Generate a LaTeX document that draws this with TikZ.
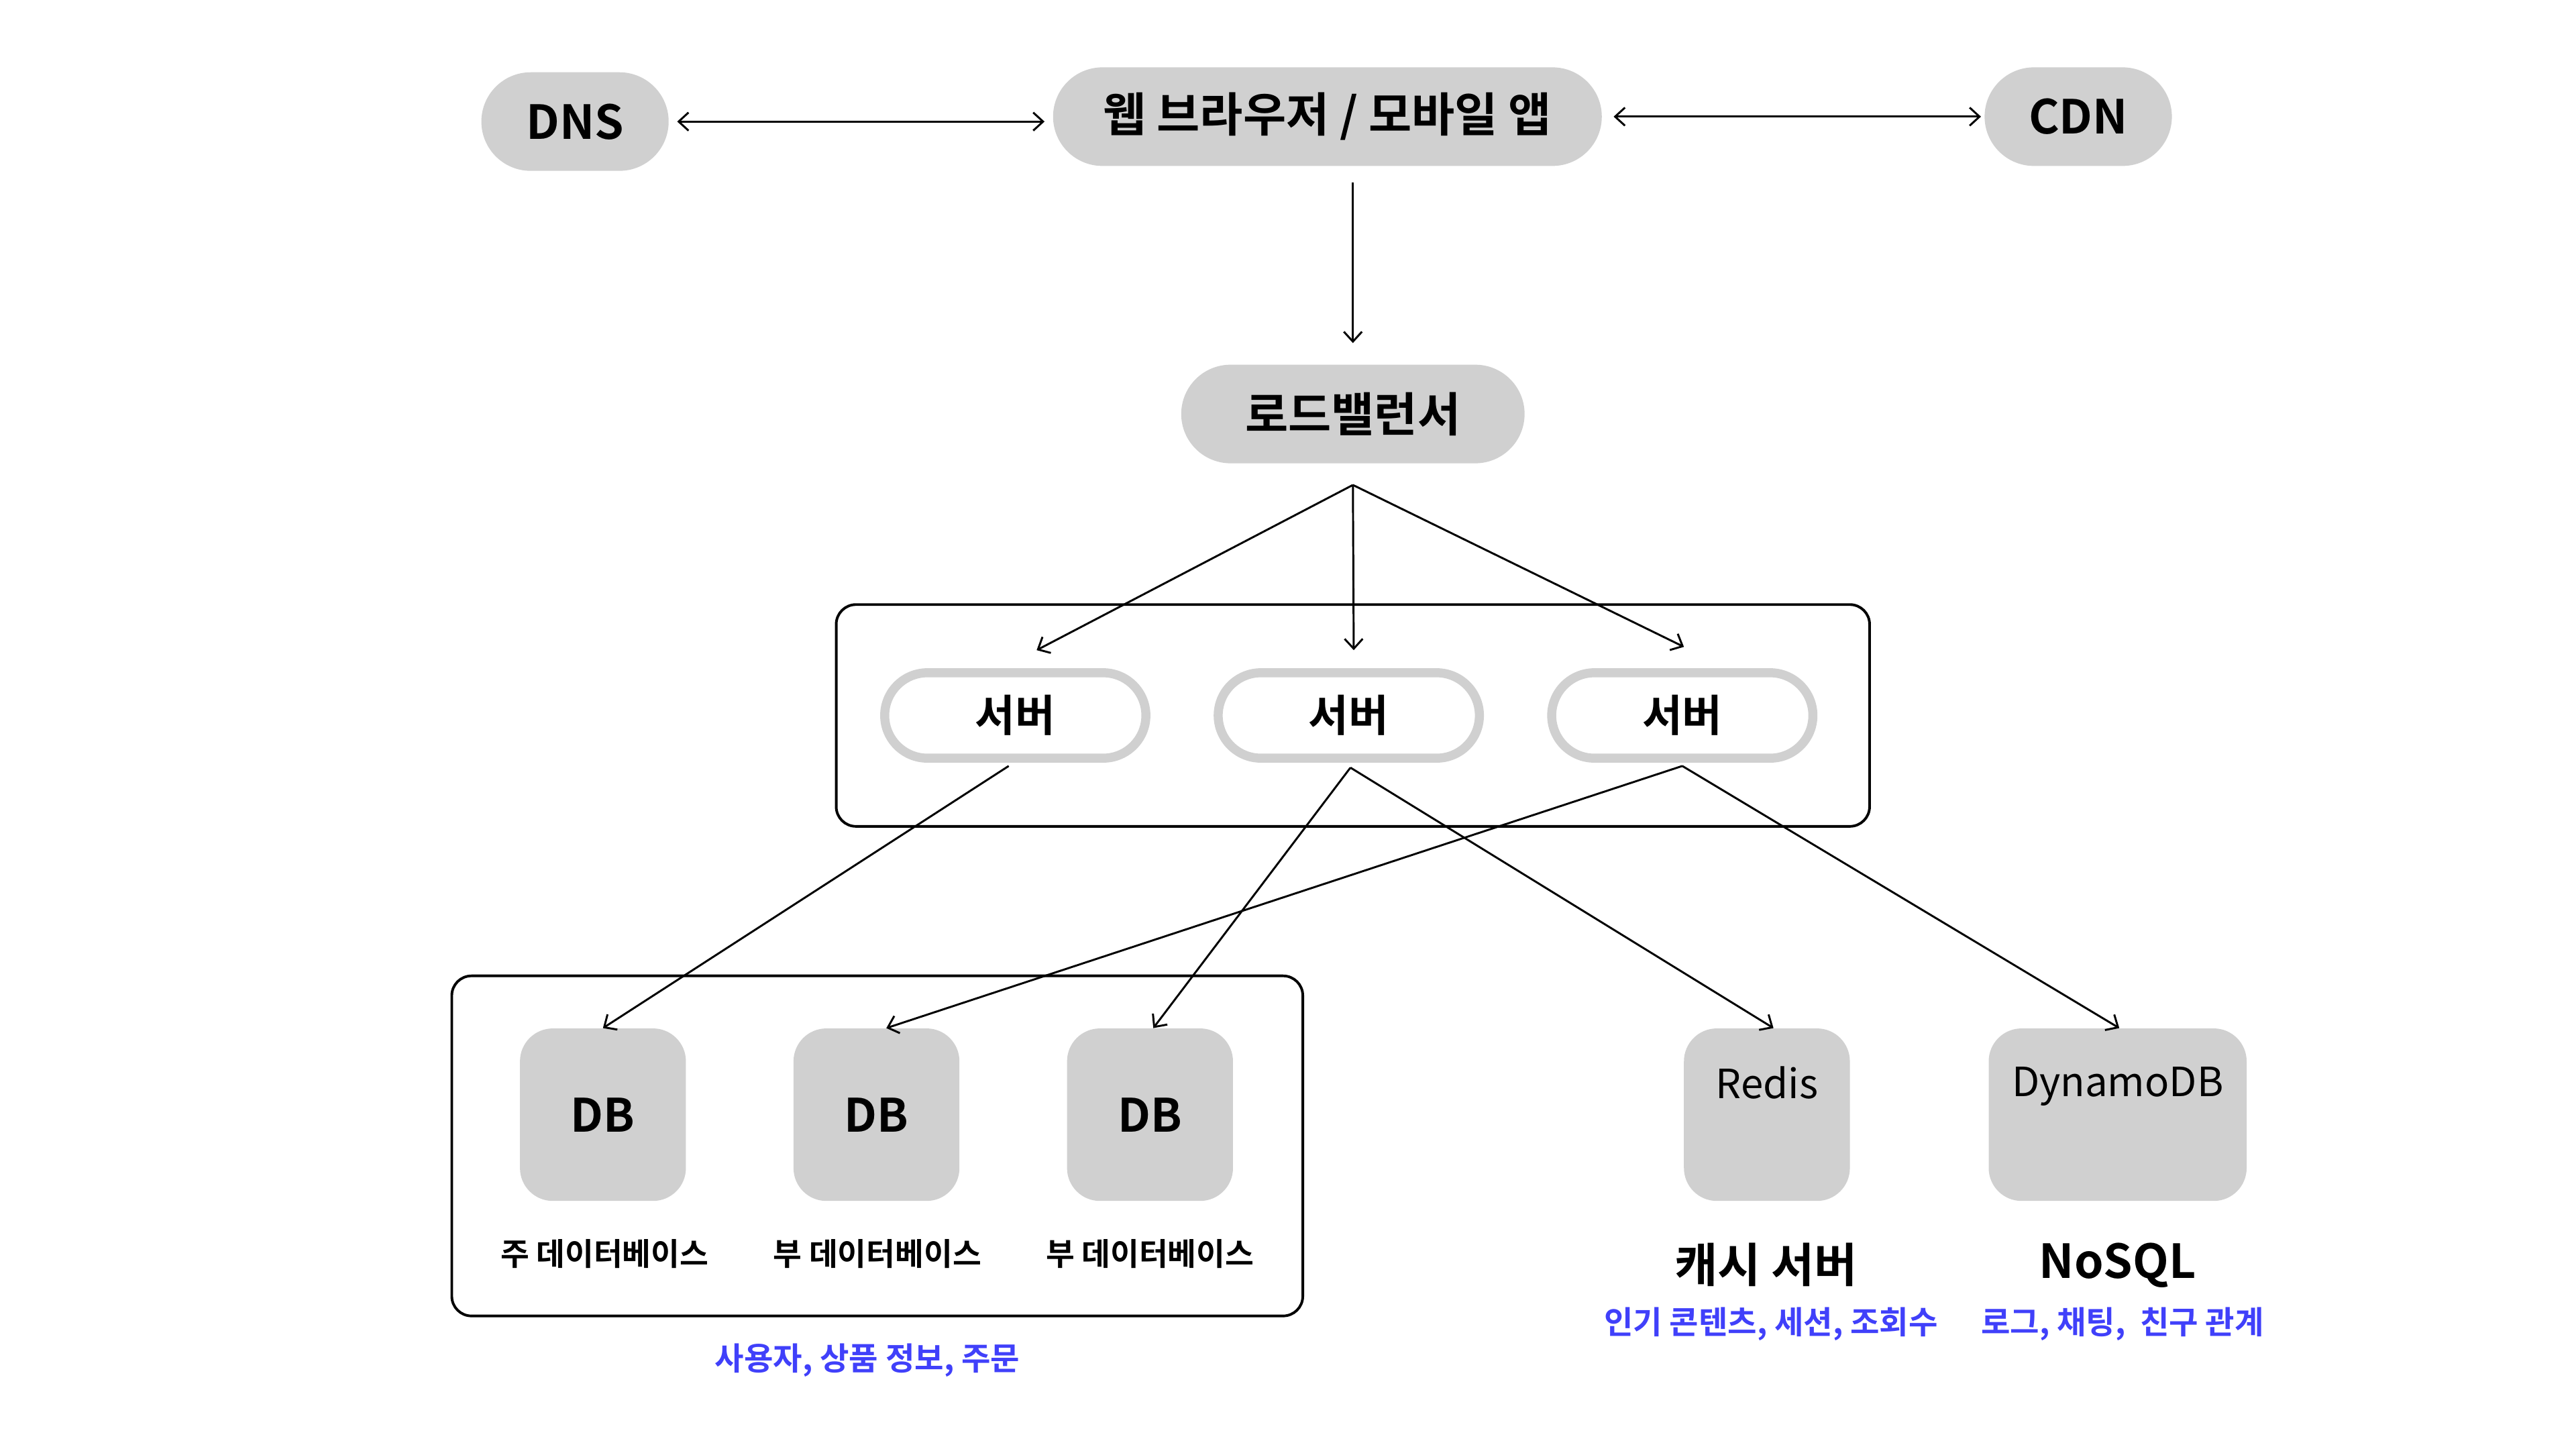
\documentclass[tikz,border=0pt]{standalone}
\usepackage{fontspec}
\setmainfont{Noto Sans CJK KR}[BoldFont={Noto Sans CJK KR Bold}]
\usetikzlibrary{arrows.meta,positioning}
\definecolor{boxgray}{RGB}{208,208,208}
\definecolor{noteblue}{RGB}{64,64,250}

\begin{document}
\begin{tikzpicture}[x=1pt,y=-1pt,
  >={Straight Barb[length=6pt,width=11pt]}, arr/.style={->,line width=1.2pt},
  pill/.style={fill=boxgray, rounded corners=30pt, minimum height=60pt, inner sep=0pt, font=\fontsize{28.5}{30}\selectfont\bfseries},
  srv/.style={draw=boxgray, line width=5.5pt, fill=white, rounded corners=26pt, minimum width=159pt, minimum height=52pt, inner sep=0pt, font=\fontsize{26.5}{30}\selectfont\bfseries},
  store/.style={fill=boxgray, rounded corners=20pt, minimum width=101pt, minimum height=105pt, inner sep=0pt},
  group/.style={draw, line width=1.6pt, rounded corners=12pt, inner sep=0pt},
  caption/.style={inner sep=0pt, font=\fontsize{19}{20}\selectfont\bfseries},
  note/.style={inner sep=0pt, text=noteblue, font=\fontsize{19.3}{20}\selectfont\bfseries}]
\useasboundingbox (0,0) rectangle (1568,882);

% top row
\node[pill, minimum width=114pt] (dns) at (350,74) {DNS};
\node[pill, minimum width=334pt] (client) at (808,71) {웹 브라우저 / 모바일 앱};
\node[pill, minimum width=114pt] (cdn) at (1265,71) {CDN};
\node[pill, minimum width=209pt] (lb) at (823.5,252) {로드밸런서};

\draw[<->, line width=1.2pt, shorten <=5pt, shorten >=5pt] (dns.east) -- (dns.east -| client.west);
\draw[<->, line width=1.2pt, shorten <=7pt, shorten >=2pt] (client.east) -- (cdn.west);
\draw[arr] ([yshift=-10pt]client.south -| lb.north) -- ([yshift=13pt]lb.north);

% servers
\node[group, minimum width=629pt, minimum height=135pt] (srvgroup) at (823.5,435.5) {};
\node[srv] (s1) at (618,435.5) {서버};
\node[srv] (s2) at (821,435.5) {서버};
\node[srv] (s3) at (1024,435.5) {서버};

\draw[arr] ([yshift=-13pt]lb.south) -- ([xshift=13pt,yshift=11pt]s1.north);
\draw[arr] ([yshift=-13pt]lb.south) -- ([xshift=3pt,yshift=11pt]s2.north);
\draw[arr] ([yshift=-13pt]lb.south) -- ([xshift=1pt,yshift=13pt]s3.north);

% databases
\node[group, minimum width=518pt, minimum height=207pt] (dbgroup) at (534,697.5) {};
\node[store, font=\fontsize{28}{30}\selectfont\bfseries] (db1) at (367,678.5) {DB};
\node[store, font=\fontsize{28}{30}\selectfont\bfseries] (db2) at (533.5,678.5) {DB};
\node[store, font=\fontsize{28}{30}\selectfont\bfseries] (db3) at (700,678.5) {DB};
\node[caption] (db1cap) at (368,763) {주 데이터베이스};
\node[caption] (db2cap) at (534,763) {부 데이터베이스};
\node[caption] (db3cap) at (700,763) {부 데이터베이스};
\node[note] (dbnote) at (528,828) {사용자, 상품 정보, 주문};

% cache and nosql
\node[store, label={[anchor=north, yshift=-20pt, font=\fontsize{24.5}{28}\selectfont]north:Redis}] (redis) at (1075.5,678.5) {};
\node[store, minimum width=157pt, label={[anchor=north, yshift=-20pt, font=\fontsize{24.5}{28}\selectfont]north:DynamoDB}] (dynamo) at (1289,678.5) {};
\node[caption, font=\fontsize{28.5}{30}\selectfont\bfseries] (redcap) at (1075,770) {캐시 서버};
\node[caption, font=\fontsize{28.5}{30}\selectfont\bfseries] (dyncap) at (1289,770) {NoSQL};
\node[note] (rednote) at (1078,806) {인기 콘텐츠, 세션, 조회수};
\node[note] (dynnote) at (1292,806) {로그, 채팅,\ \ 친구 관계};

\draw[arr] ([xshift=-4pt,yshift=-2pt]s1.south) -- (db1.north);
\draw[arr] ([xshift=1pt,yshift=-3pt]s2.south) -- ([xshift=2pt]db3.north);
\draw[arr] ([xshift=1pt,yshift=-3pt]s2.south) -- ([xshift=4pt]redis.north);
\draw[arr] ([yshift=-2pt]s3.south) -- ([xshift=6pt]db2.north);
\draw[arr] ([yshift=-2pt]s3.south) -- ([xshift=1pt]dynamo.north);
\end{tikzpicture}
\end{document}
